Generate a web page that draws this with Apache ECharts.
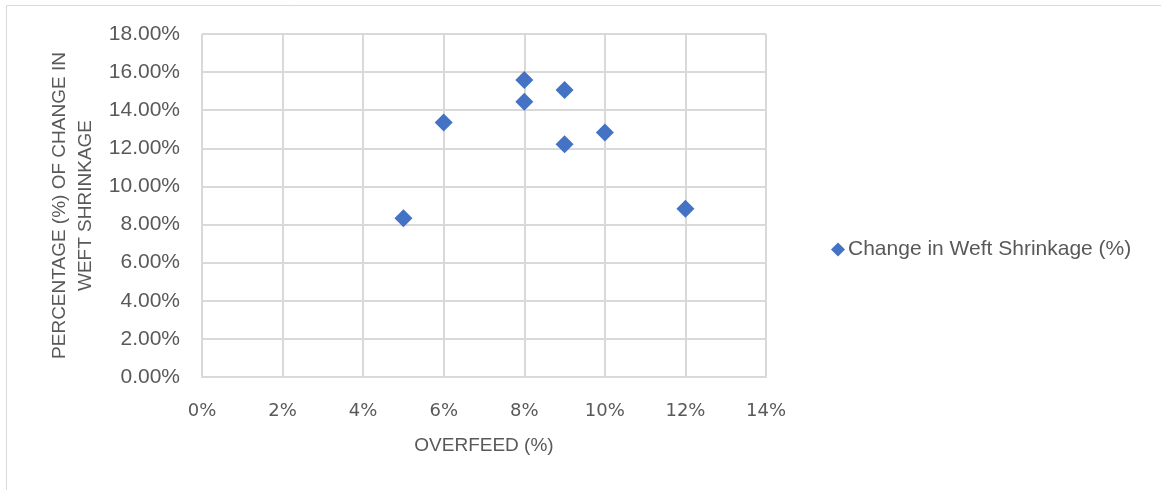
<!DOCTYPE html>
<html>
<head>
<meta charset="utf-8">
<script src="https://cdn.jsdelivr.net/npm/echarts@6/dist/echarts.min.js"></script>
<style>
  html, body { margin: 0; padding: 0; background: #fff; }
  #chart { width: 1161px; height: 490px; }
</style>
</head>
<body>
<div id="chart"></div>
<script>
// Overfeed (fraction) and matching change in weft shrinkage (fraction)
const overfeed = [0.05, 0.06, 0.08, 0.08, 0.09, 0.09, 0.10, 0.12];
const weftShrinkageChange = [0.0833, 0.1336, 0.1559, 0.1445, 0.1506, 0.1221, 0.1283, 0.0883];
const seriesName = 'Change in Weft Shrinkage (%)';
const xTitle = 'OVERFEED (%)';
const yTitle = 'PERCENTAGE (%) OF CHANGE IN\nWEFT SHRINKAGE';

const points = overfeed.map((x, i) => [x, weftShrinkageChange[i]]);

const fontFamily = '"Liberation Sans", Arial, sans-serif';
const wideFont = '"DejaVu Sans", "Liberation Sans", sans-serif';
const textColor = '#595959';
const gridColor = '#d9d9d9';

const chart = echarts.init(document.getElementById('chart'), null, { renderer: 'canvas' });
chart.setOption({
  animation: false,
  backgroundColor: '#ffffff',
  textStyle: { fontFamily: fontFamily },
  graphic: [{
    type: 'rect',
    shape: { x: 6.5, y: 5.5, width: 1170, height: 500 },
    style: { fill: 'none', stroke: gridColor, lineWidth: 1 },
    silent: true
  }],
  grid: { left: 202, right: 395, top: 34, bottom: 113, containLabel: false },
  legend: {
    orient: 'vertical',
    left: 826,
    top: 234,
    itemWidth: 14,
    itemHeight: 14,
    itemGap: 4,
    icon: 'diamond',
    textStyle: { color: textColor, fontSize: 21, fontFamily: fontFamily, padding: [0, 0, 0, -2] },
    data: [seriesName]
  },
  xAxis: {
    type: 'value',
    min: 0,
    max: 0.14,
    interval: 0.02,
    name: xTitle,
    nameLocation: 'middle',
    nameGap: 59,
    nameTextStyle: { color: textColor, fontSize: 19, fontFamily: fontFamily },
    axisLine: { show: true, lineStyle: { color: gridColor, width: 2 } },
    axisTick: { show: false },
    axisLabel: {
      color: textColor, fontSize: 18, margin: 25, fontFamily: wideFont,
      formatter: v => Math.round(v * 100) + '%'
    },
    splitLine: { show: true, lineStyle: { color: gridColor, width: 2 } }
  },
  yAxis: {
    type: 'value',
    min: 0,
    max: 0.18,
    interval: 0.02,
    name: yTitle,
    nameLocation: 'middle',
    nameGap: 103,
    nameRotate: 90,
    nameTextStyle: { color: textColor, fontSize: 19, fontFamily: fontFamily, lineHeight: 26, align: 'center' },
    axisLine: { show: false },
    axisTick: { show: false },
    axisLabel: {
      color: textColor, fontSize: 21, margin: 22,
      formatter: v => (v * 100).toFixed(2) + '%'
    },
    splitLine: { show: true, lineStyle: { color: gridColor, width: 2 } }
  },
  series: [{
    name: seriesName,
    type: 'scatter',
    symbol: 'diamond',
    symbolSize: 18,
    itemStyle: { color: '#4472C4', opacity: 1 },
    data: points
  }]
});
</script>
</body>
</html>
